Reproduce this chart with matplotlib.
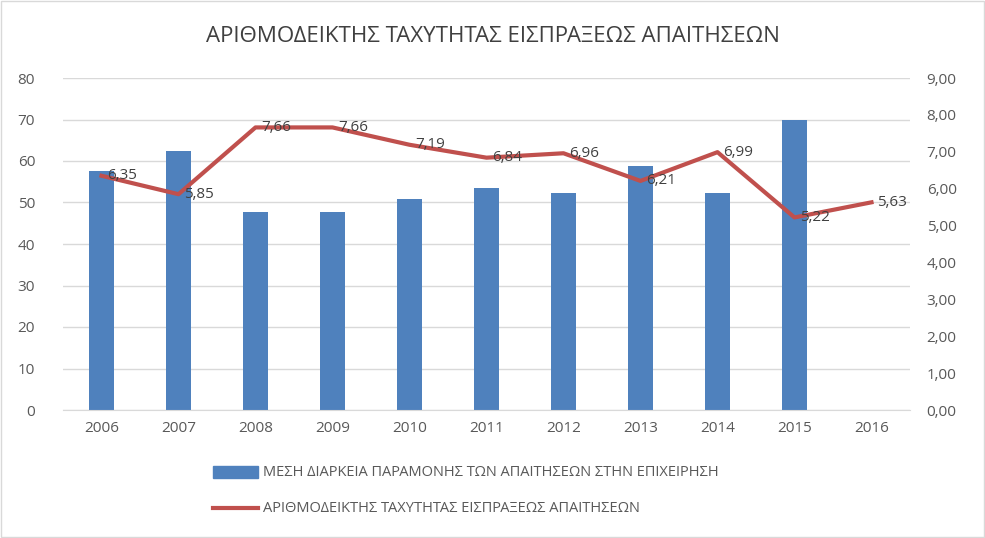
import matplotlib
matplotlib.use("Agg")
import matplotlib.pyplot as plt
from matplotlib.patches import Rectangle

years = ["2006","2007","2008","2009","2010","2011","2012","2013","2014","2015","2016"]
days = [57.5, 62.4, 47.7, 47.7, 50.8, 53.4, 52.4, 58.8, 52.2, 69.9, 0]
ratio = [6.35, 5.85, 7.66, 7.66, 7.19, 6.84, 6.96, 6.21, 6.99, 5.22, 5.63]
ratio_labels = ["6,35","5,85","7,66","7,66","7,19","6,84","6,96","6,21","6,99","5,22","5,63"]
title = "ΑΡΙΘΜΟΔΕΙΚΤΗΣ ΤΑΧΥΤΗΤΑΣ ΕΙΣΠΡΑΞΕΩΣ ΑΠΑΙΤΗΣΕΩΝ"
bar_name = "ΜΕΣΗ ΔΙΑΡΚΕΙΑ ΠΑΡΑΜΟΝΗΣ ΤΩΝ ΑΠΑΙΤΗΣΕΩΝ ΣΤΗΝ ΕΠΙΧΕΙΡΗΣΗ"
line_name = "ΑΡΙΘΜΟΔΕΙΚΤΗΣ ΤΑΧΥΤΗΤΑΣ ΕΙΣΠΡΑΞΕΩΣ ΑΠΑΙΤΗΣΕΩΝ"

plt.rcParams["font.family"] = "Open Sans"
fig = plt.figure(figsize=(9.85, 5.38), dpi=100)
fig.patches.append(Rectangle((0.001, 0.001), 0.998, 0.998, transform=fig.transFigure,
                             fill=False, edgecolor="#d9d9d9", lw=1))
ax = fig.add_axes([63/985, 1-410/538, (910-63)/985, (410-78)/538])
ax2 = ax.twinx()
x = list(range(len(years)))
ax.bar(x, days, width=0.32, color="#4f81bd", zorder=2)
ax2.plot(x, ratio, color="#c0504d", lw=3, zorder=3)
for xi, v, t in zip(x, ratio, ratio_labels):
    ax2.annotate(t, (xi, v), xytext=(4, 0), textcoords="offset points",
                 ha="left", va="center", fontsize=11, color="#404040")
ax.set_ylim(0, 80)
ax.set_yticks(range(0, 81, 10))
ax2.set_ylim(0, 9)
ax2.set_yticks(range(0, 10))
ax2.set_yticklabels([f"{i},00" for i in range(10)])
ax.set_xlim(-0.5, len(years)-0.5)
ax.set_xticks(x)
ax.set_xticklabels(years)
ax.grid(axis="y", color="#d9d9d9", lw=1, zorder=0)
for a in (ax, ax2):
    for s in a.spines.values():
        s.set_visible(False)
    a.tick_params(length=0, labelsize=11, labelcolor="#595959")
ax.spines["bottom"].set_visible(True)
ax.spines["bottom"].set_color("#d9d9d9")
ax.tick_params(axis="x", pad=8)
ax.tick_params(axis="y", pad=20)
ax2.tick_params(axis="y", pad=12)
fig.text(0.5, 1-37/538, title, ha="center", va="center", fontsize=16, color="#404040")
fig.patches.append(Rectangle((213/985, 1-478/538), 45/985, 12/538, transform=fig.transFigure,
                             color="#4f81bd"))
fig.text(263/985, 1-472/538, bar_name, ha="left", va="center", fontsize=10.5, color="#595959")
fig.lines.append(plt.Line2D([213/985, 258/985], [1-508/538]*2, transform=fig.transFigure,
                            color="#c0504d", lw=3))
fig.text(263/985, 1-508/538, line_name, ha="left", va="center", fontsize=10.5, color="#595959")
fig.savefig("out.png", dpi=100)
